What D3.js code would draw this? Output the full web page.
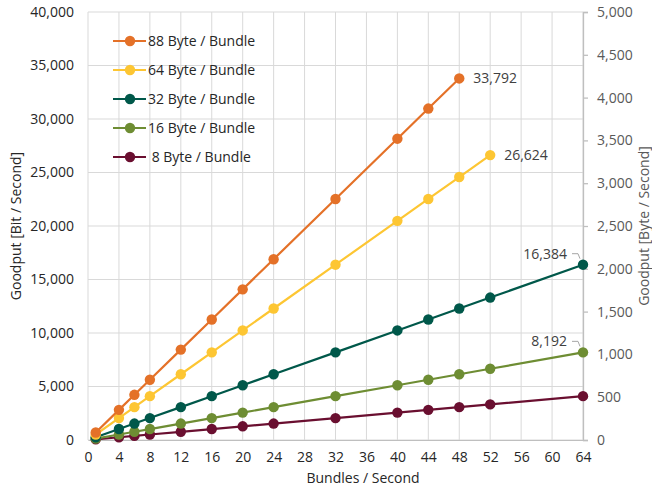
<!DOCTYPE html>
<html>
<head>
<meta charset="utf-8">
<script src="https://cdn.jsdelivr.net/npm/d3@7"></script>
<style>
  html, body { margin: 0; padding: 0; background: #fff; }
  svg text { font-family: "Open Sans", "Noto Sans", sans-serif; }
</style>
</head>
<body>
<svg id="chart" width="652" height="489"></svg>
<script>
// Bundles per second (x positions of the measurements)
const bundles88 = [1, 4, 6, 8, 12, 16, 20, 24, 32, 40, 44, 48];
const bundles64 = [1, 4, 6, 8, 12, 16, 20, 24, 32, 40, 44, 48, 52];
const bundlesAll = [1, 4, 6, 8, 12, 16, 20, 24, 32, 40, 44, 48, 52, 64];

// Goodput in bit per second for each payload size
const goodput88 = [704, 2816, 4224, 5632, 8448, 11264, 14080, 16896, 22528, 28160, 30976, 33792];
const goodput64 = [512, 2048, 3072, 4096, 6144, 8192, 10240, 12288, 16384, 20480, 22528, 24576, 26624];
const goodput32 = [256, 1024, 1536, 2048, 3072, 4096, 5120, 6144, 8192, 10240, 11264, 12288, 13312, 16384];
const goodput16 = [128, 512, 768, 1024, 1536, 2048, 2560, 3072, 4096, 5120, 5632, 6144, 6656, 8192];
const goodput8  = [64, 256, 384, 512, 768, 1024, 1280, 1536, 2048, 2560, 2816, 3072, 3328, 4096];

const seriesNames = ["88 Byte / Bundle", "64 Byte / Bundle", "32 Byte / Bundle", "16 Byte / Bundle", " 8 Byte / Bundle"];
const seriesColors = ["#e47128", "#fdc633", "#00584a", "#6e8d33", "#6a0f30"];

const xTicks = [0, 4, 8, 12, 16, 20, 24, 28, 32, 36, 40, 44, 48, 52, 56, 60, 64];
const yTicksBit = [0, 5000, 10000, 15000, 20000, 25000, 30000, 35000, 40000];
const yTicksByte = [0, 500, 1000, 1500, 2000, 2500, 3000, 3500, 4000, 4500, 5000];

const series = [
  { name: seriesNames[0], color: seriesColors[0], xs: bundles88, ys: goodput88 },
  { name: seriesNames[1], color: seriesColors[1], xs: bundles64, ys: goodput64 },
  { name: seriesNames[2], color: seriesColors[2], xs: bundlesAll, ys: goodput32 },
  { name: seriesNames[3], color: seriesColors[3], xs: bundlesAll, ys: goodput16 },
  { name: seriesNames[4], color: seriesColors[4], xs: bundlesAll, ys: goodput8 }
];

const FS = 14;
const svg = d3.select("#chart");
const m = { left: 88, right: 583, top: 12, bottom: 440 };

const x = d3.scaleLinear().domain([0, 64]).range([m.left, m.right]);
const yBit = d3.scaleLinear().domain([0, 40000]).range([m.bottom, m.top]);
const yByte = d3.scaleLinear().domain([0, 5000]).range([m.bottom, m.top]);
const fmt = d3.format(",");

// grid
const grid = svg.append("g");
grid.selectAll("line.v").data(xTicks).join("line")
  .attr("x1", d => x(d)).attr("x2", d => x(d))
  .attr("y1", m.top).attr("y2", m.bottom)
  .attr("stroke", "#d9d9d9").attr("stroke-width", 1);
grid.selectAll("line.h").data(yTicksBit).join("line")
  .attr("x1", m.left).attr("x2", m.right)
  .attr("y1", d => yBit(d)).attr("y2", d => yBit(d))
  .attr("stroke", "#d9d9d9").attr("stroke-width", 1);

// bottom axis
const xAxis = svg.append("g").attr("transform", `translate(0,${m.bottom})`)
  .call(d3.axisBottom(x).tickValues(xTicks).tickSize(0).tickPadding(12));
xAxis.select(".domain").attr("stroke", "#bfbfbf");
xAxis.selectAll("text").attr("font-size", FS).attr("fill", "#262626");

// left axis
const yAxisL = svg.append("g").attr("transform", `translate(${m.left},0)`)
  .call(d3.axisLeft(yBit).tickValues(yTicksBit).tickFormat(fmt).tickSize(0).tickPadding(14));
yAxisL.select(".domain").remove();
yAxisL.selectAll("text").attr("font-size", FS).attr("fill", "#262626");

// right axis
const yAxisR = svg.append("g").attr("transform", `translate(${m.right},0)`)
  .call(d3.axisRight(yByte).tickValues(yTicksByte).tickFormat(fmt).tickSize(5).tickPadding(9));
yAxisR.select(".domain").attr("stroke", "#bfbfbf").attr("stroke-width", 1.3);
yAxisR.selectAll("line").attr("stroke", "#bfbfbf").attr("stroke-width", 1.3);
yAxisR.selectAll("text").attr("font-size", FS).attr("fill", "#595959");

// axis titles
svg.append("text").attr("transform", `translate(21,226) rotate(-90)`)
  .attr("text-anchor", "middle").attr("font-size", FS).attr("fill", "#262626")
  .text("Goodput [Bit / Second]");
svg.append("text").attr("transform", `translate(649,226) rotate(-90)`)
  .attr("text-anchor", "middle").attr("font-size", FS).attr("fill", "#595959")
  .text("Goodput [Byte / Second]");
svg.append("text").attr("x", 363).attr("y", 483)
  .attr("text-anchor", "middle").attr("font-size", FS).attr("fill", "#262626")
  .text("Bundles / Second");

// lines and markers, drawn from the smallest payload up so larger ones sit on top
const line = d3.line().x(d => x(d[0])).y(d => yBit(d[1]));
series.slice().reverse().forEach(s => {
  const pts = s.xs.map((v, i) => [v, s.ys[i]]);
  const g = svg.append("g");
  g.append("path").datum(pts).attr("d", line)
    .attr("fill", "none").attr("stroke", s.color).attr("stroke-width", 2.2);
  g.selectAll("circle").data(pts).join("circle")
    .attr("cx", d => x(d[0])).attr("cy", d => yBit(d[1])).attr("r", 5.2)
    .attr("fill", s.color);
});

// end-value labels
const lastOf = s => [s.xs[s.xs.length - 1], s.ys[s.ys.length - 1]];
[0, 1].forEach(i => {
  const [lx, ly] = lastOf(series[i]);
  svg.append("text").attr("x", x(lx) + 14).attr("y", yBit(ly) + 5)
    .attr("font-size", FS).attr("fill", "#404040").text(fmt(ly));
});
[2, 3].forEach(i => {
  const [lx, ly] = lastOf(series[i]);
  const px = x(lx), py = yBit(ly);
  svg.append("text").attr("x", px - 16).attr("y", py - 6)
    .attr("text-anchor", "end").attr("font-size", FS).attr("fill", "#404040").text(fmt(ly));
  svg.append("polyline")
    .attr("points", `${px - 11},${py - 11} ${px - 5},${py - 11} ${px - 3},${py - 6}`)
    .attr("fill", "none").attr("stroke", "#a6a6a6").attr("stroke-width", 1);
});

// legend
const legend = svg.append("g");
series.forEach((s, i) => {
  const ly = 41 + i * 29;
  legend.append("line").attr("x1", 113).attr("x2", 146).attr("y1", ly).attr("y2", ly)
    .attr("stroke", s.color).attr("stroke-width", 2.2);
  legend.append("circle").attr("cx", 130).attr("cy", ly).attr("r", 5.2).attr("fill", s.color);
  legend.append("text").attr("x", 148).attr("y", ly + 5).attr("font-size", FS)
    .attr("fill", "#262626").attr("xml:space", "preserve").text(s.name);
});
</script>
</body>
</html>
